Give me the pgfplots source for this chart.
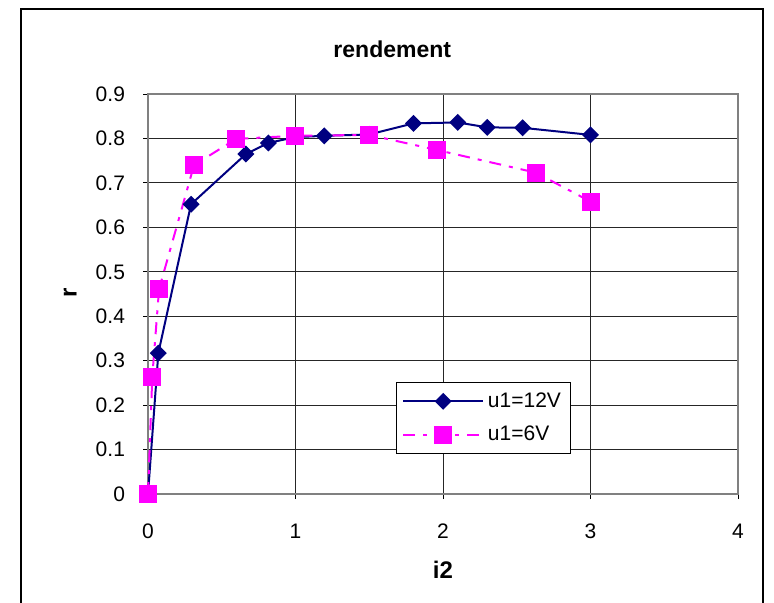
\documentclass[border=0pt]{standalone}
\usepackage{pgfplots}
\pgfplotsset{compat=1.18}
\usepackage{fontspec}
\setmainfont{Liberation Sans}
\definecolor{navyc}{RGB}{0,0,128}
\definecolor{magc}{RGB}{255,0,255}
\begin{document}
\begin{tikzpicture}
\path[use as bounding box] (0,0) rectangle (387pt,301pt);
\draw[black, line width=0.6pt] (10.5pt,-2pt) -- (10.5pt,296.5pt) -- (381.5pt,296.5pt) -- (381.5pt,-2pt);
\begin{axis}[
  at={(74pt,54pt)}, anchor=south west,
  scale only axis, width=295pt, height=200pt,
  xmin=0, xmax=4, ymin=0, ymax=0.9,
  xtick={0,1,2,3,4}, ytick={0,0.1,...,0.9},
  yticklabel style={/pgf/number format/fixed, /pgf/number format/precision=1, xshift=-5.5pt},
  xticklabel style={yshift=-9pt},
  /pgf/number format/assume math mode=true,
  ticklabel style={font=\fontsize{10.5}{12}\selectfont},
  tick align=outside, major tick length=2.5pt,
  tick style={black, line width=0.5pt},
  xtick pos=left, ytick pos=left,
  grid=major, major grid style={black!85, line width=0.5pt},
  axis line style={gray, line width=1pt},
  title={\textbf{rendement}},
  title style={at={(rel axis cs:0.414,1.1125)}, anchor=center, yshift=-6pt, font=\fontsize{11.5}{13}\selectfont},
  xlabel={\textbf{i2}},
  xlabel style={at={(rel axis cs:0.5,-0.19)}, anchor=center, font=\fontsize{12}{14}\selectfont},
  ylabel={\textbf{r}},
  ylabel style={at={(rel axis cs:-0.132,0.5025)}, anchor=center, rotate=0, font=\fontsize{12}{14}\selectfont},
  legend style={at={(rel axis cs:0.42,0.28)}, anchor=north west, draw=black, line width=0.5pt,
    font=\fontsize{10.5}{12}\selectfont, row sep=4pt, inner xsep=3pt, inner ysep=3pt},
  legend cell align=left,
  legend image code/.code={
    \draw[#1] (0cm,0cm) -- (1.4cm,0cm);
    \draw[#1, only marks] plot coordinates {(0.7cm,0cm)};
  },
  clip=false,
]
\addplot[navyc, line width=1pt, mark=square*, mark size=2.5pt, mark options={rotate=45, solid, fill=navyc, draw=navyc}]
coordinates {
(0,0) (0.070,0.317) (0.292,0.652) (0.664,0.765) (0.816,0.790) (1.0,0.803) (1.195,0.806)
(1.50,0.809) (1.80,0.834) (2.10,0.836) (2.30,0.825) (2.54,0.824) (3.0,0.808)
};
\addlegendentry{u1=12V}
\addplot[magc, line width=1pt, dash pattern=on 6pt off 4pt on 2pt off 4pt, mark=square*, mark size=4pt, mark options={solid, fill=magc, draw=magc}]
coordinates {
(0,0) (0.029,0.264) (0.075,0.461) (0.312,0.740) (0.597,0.799) (0.997,0.806)
(1.50,0.808) (1.96,0.774) (2.63,0.723) (3.0,0.658)
};
\addlegendentry{u1=6V}
\end{axis}
\end{tikzpicture}
\end{document}
